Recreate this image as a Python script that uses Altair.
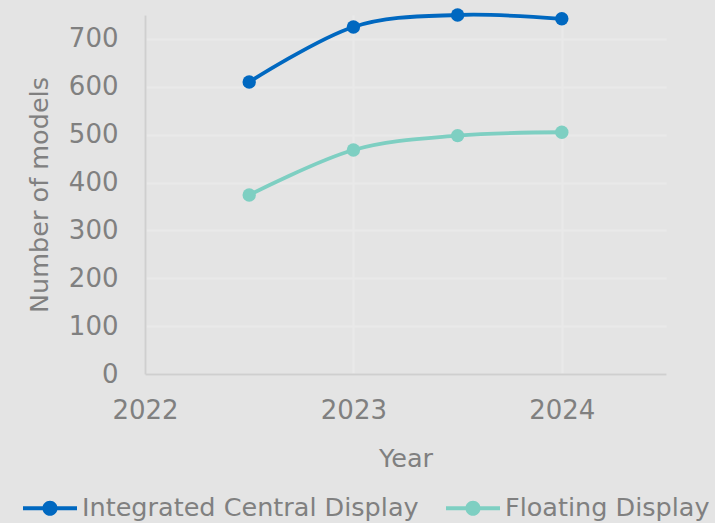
import altair as alt
import pandas as pd

# Number of vehicle models per display type
years = [2022.5, 2023, 2023.5, 2024]
integrated = [610, 725, 750, 742]
floating = [374, 468, 498, 505]
series = ["Integrated Central Display", "Floating Display"]
colors = ["#0068c0", "#7ecfc2"]

x_ticks = [2022, 2023, 2024]
y_ticks = [0, 100, 200, 300, 400, 500, 600, 700]

rows = []
for name, vals in zip(series, [integrated, floating]):
    for yr, v in zip(years, vals):
        rows.append({"Year": yr, "Models": v, "Series": name})
df = pd.DataFrame(rows)

FONT = "DejaVu Sans"
GREY = "#808080"
BG = "#e4e4e4"

# line symbol with a dot in the middle, used in the legend
legend_shape = (
    "M-1,-0.07H-0.25V0.07H-1Z "
    "M0.25,-0.07H1V0.07H0.25Z "
    "M-0.28,0A0.28,0.28 0 1,1 0.28,0A0.28,0.28 0 1,1 -0.28,0Z"
)

x_enc = alt.X(
    "Year:Q",
    scale=alt.Scale(domain=[2022, 2024.5], nice=False, zero=False),
    axis=alt.Axis(
        values=x_ticks, format="d", title="Year", grid=True, labelFlush=False,
        labelPadding=23, titlePadding=23,
    ),
)
y_enc = alt.Y(
    "Models:Q",
    scale=alt.Scale(domain=[0, 750], nice=False),
    axis=alt.Axis(
        values=y_ticks, title="Number of models", grid=True, labelFlush=False,
        labelPadding=27, titlePadding=16,
    ),
)
color_enc = alt.Color(
    "Series:N",
    scale=alt.Scale(domain=series, range=colors),
    legend=alt.Legend(
        title=None, orient="none", direction="horizontal",
        legendX=-122, legendY=466,
        symbolType=legend_shape, symbolSize=2916,
        symbolStrokeWidth=0, labelOffset=5, columnPadding=27,
    ),
)

base = alt.Chart(df).encode(x=x_enc, y=y_enc, color=color_enc)

lines = base.mark_line(strokeWidth=3.8, interpolate="cardinal")
points = base.mark_point(filled=True, size=180, opacity=1, shape="circle")

chart = (
    alt.layer(lines, points)
    .properties(
        width=521, height=359,
        autosize=alt.AutoSizeParams(type="none"),
        padding={"left": 145, "top": 15, "right": 49, "bottom": 149},
        background=BG,
    )
    .configure_view(stroke=None, fill=BG)
    .configure_axis(
        labelFont=FONT, titleFont=FONT, labelFontSize=26, titleFontSize=25.5,
        labelColor=GREY, titleColor=GREY, titleFontWeight="normal",
        ticks=False, tickSize=0, domainColor="#cfcfcf", domainWidth=2,
        gridColor="#e9e9e9", gridWidth=2,
    )
    .configure_legend(
        labelFont=FONT, labelFontSize=25.5, labelColor=GREY, labelLimit=0,
    )
)

chart.save("out.html", embed_options={"renderer": "svg", "actions": False})
